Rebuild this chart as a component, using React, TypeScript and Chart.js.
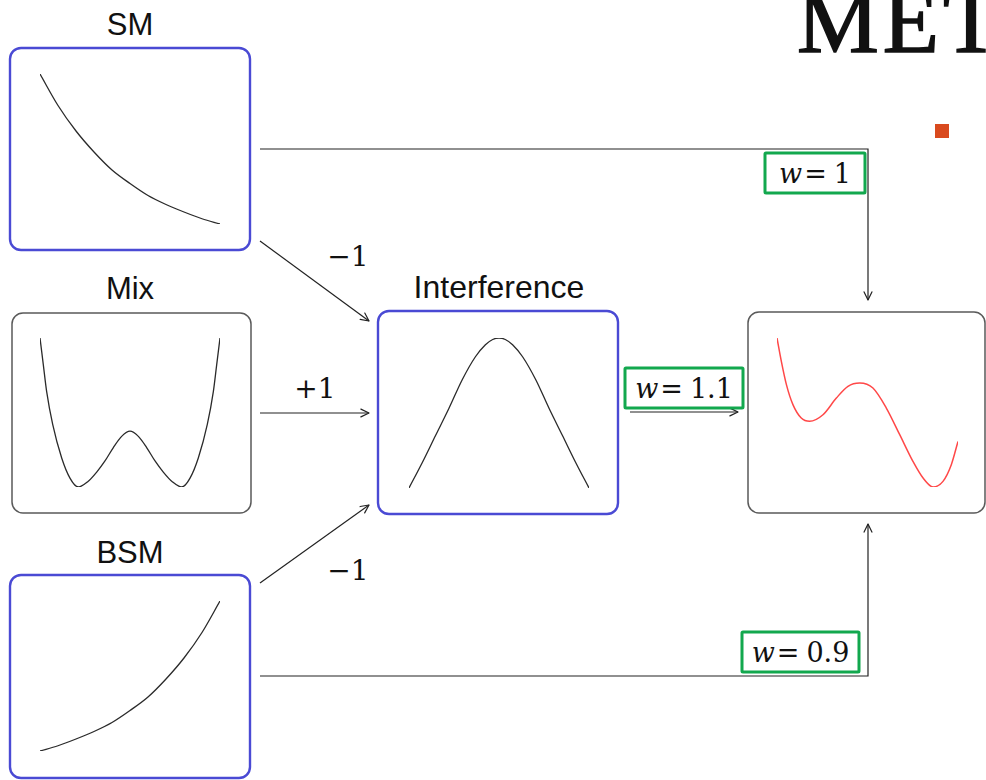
import React, { useEffect, useRef } from "react";
import { Chart, registerables } from "chart.js";

Chart.register(...registerables);

// ---- data ----
const smX = [0, 0.1, 0.2, 0.3, 0.4, 0.5, 0.6, 0.7, 0.8, 0.9, 1];
const smY = [1, 0.79, 0.62, 0.48, 0.36, 0.27, 0.19, 0.13, 0.08, 0.035, 0];

const bsmX = [0, 0.1, 0.2, 0.3, 0.4, 0.5, 0.6, 0.7, 0.8, 0.9, 1];
const bsmY = [0, 0.035, 0.08, 0.13, 0.19, 0.27, 0.36, 0.48, 0.62, 0.79, 1];

const mixX = [-1, -0.963, -0.926, -0.859, -0.759, -0.667, -0.574, -0.47, -0.37, -0.278, -0.185, -0.093, 0, 0.093, 0.185, 0.278, 0.37, 0.47, 0.574, 0.667, 0.759, 0.859, 0.926, 0.963, 1];
const mixY = [1, 0.82, 0.64, 0.42, 0.195, 0.06, 0, 0.035, 0.1, 0.175, 0.265, 0.34, 0.375, 0.34, 0.265, 0.175, 0.1, 0.035, 0, 0.06, 0.195, 0.42, 0.64, 0.82, 1];

const interfX = [-1, -0.852, -0.705, -0.557, -0.41, -0.262, -0.151, -0.07, 0, 0.07, 0.151, 0.262, 0.41, 0.557, 0.705, 0.852, 1];
const interfY = [0, 0.17, 0.35, 0.53, 0.72, 0.875, 0.955, 0.99, 1, 0.99, 0.955, 0.875, 0.72, 0.53, 0.35, 0.17, 0];

const resultX = [0, 0.024, 0.052, 0.088, 0.134, 0.18, 0.254, 0.328, 0.392, 0.457, 0.53, 0.604, 0.678, 0.751, 0.807, 0.862, 0.917, 0.963, 1];
const resultY = [1, 0.843, 0.687, 0.553, 0.463, 0.441, 0.485, 0.597, 0.676, 0.698, 0.664, 0.53, 0.351, 0.172, 0.06, 0, 0.038, 0.15, 0.306];

const panelTitles = ["SM", "Mix", "BSM", "Interference"];
const coeffLabels = ["\u22121", "+1", "\u22121"];
const weightLabels = ["1", "1.1", "0.9"];
const headerText = "MET";

// ---- styling ----
const BLUE = "#4a4ad4";
const GRAY = "#5a5a5a";
const GREEN = "#12a84e";
const CURVE = "#2a2a2a";
const RED = "#ff4848";

type PanelProps = {
  xs: number[];
  ys: number[];
  left: number;
  top: number;
  w: number;
  h: number;
  color: string;
  lineWidth: number;
};

function CurvePanel({ xs, ys, left, top, w, h, color, lineWidth }: PanelProps) {
  const ref = useRef<HTMLCanvasElement | null>(null);
  const pad = 4;
  useEffect(() => {
    if (!ref.current) return;
    const pts = xs.map((x, i) => ({ x, y: ys[i] }));
    const chart = new Chart(ref.current, {
      type: "scatter",
      data: {
        datasets: [
          {
            data: pts,
            showLine: true,
            borderColor: color,
            borderWidth: lineWidth,
            pointRadius: 0,
            cubicInterpolationMode: "monotone",
            fill: false,
          } as any,
        ],
      },
      options: {
        animation: false,
        responsive: false,
        maintainAspectRatio: false,
        layout: { padding: pad },
        plugins: { legend: { display: false }, tooltip: { enabled: false } },
        events: [],
        scales: {
          x: { type: "linear", display: false, min: Math.min(...xs), max: Math.max(...xs) },
          y: { type: "linear", display: false, min: Math.min(...ys), max: Math.max(...ys) },
        },
      },
    });
    return () => chart.destroy();
  }, [xs, ys, color, lineWidth]);
  return (
    <canvas
      ref={ref}
      width={w + 2 * pad}
      height={h + 2 * pad}
      style={{ position: "absolute", left: left - pad, top: top - pad, width: w + 2 * pad, height: h + 2 * pad }}
    />
  );
}

function arrowHead(x1: number, y1: number, x2: number, y2: number) {
  const a = Math.atan2(y2 - y1, x2 - x1);
  const len = 9;
  const spread = 0.45;
  const p1 = [x2 - len * Math.cos(a - spread), y2 - len * Math.sin(a - spread)];
  const p2 = [x2 - len * Math.cos(a + spread), y2 - len * Math.sin(a + spread)];
  return `${p1[0]},${p1[1]} ${x2},${y2} ${p2[0]},${p2[1]}`;
}

function Arrow({ pts }: { pts: number[][] }) {
  const n = pts.length;
  const [x1, y1] = pts[n - 2];
  const [x2, y2] = pts[n - 1];
  return (
    <g stroke="#222" strokeWidth={1.2} fill="none">
      <polyline points={pts.map((p) => p.join(",")).join(" ")} />
      <polyline points={arrowHead(x1, y1, x2, y2)} strokeLinecap="round" strokeLinejoin="round" />
    </g>
  );
}

const mathFont = "'DejaVu Serif', serif";

function WeightBox({ x, y, w, h, value }: { x: number; y: number; w: number; h: number; value: string }) {
  return (
    <g>
      <rect x={x} y={y} width={w} height={h} fill="white" stroke={GREEN} strokeWidth={3} rx={1} />
      <text
        x={x + w / 2}
        y={y + h / 2 + 10}
        textAnchor="middle"
        fontFamily={mathFont}
        fontSize={27}
        fill="#111"
      >
        <tspan fontStyle="italic">w</tspan>
        <tspan dx={2}>=</tspan>
        <tspan dx={7}>{value}</tspan>
      </text>
    </g>
  );
}

export default function App() {
  const sans = "'Liberation Sans', Arial, sans-serif";
  const serif = "'Liberation Serif', serif";
  return (
    <div
      style={{
        position: "absolute",
        left: 0,
        top: 0,
        width: 986,
        height: 780,
        background: "white",
        overflow: "hidden",
      }}
    >
      <svg width={986} height={780} style={{ position: "absolute", left: 0, top: 0 }}>
        {/* header */}
        <text
          x={797}
          y={52}
          fontFamily={serif}
          fontSize={92}
          letterSpacing={4}
          fill="#111"
          stroke="#111"
          strokeWidth={1.6}
        >
          {headerText}
        </text>
        <rect x={935} y={124} width={14} height={14} fill="#d94a1e" />

        {/* panel boxes */}
        <rect x={10} y={48} width={240} height={202} rx={11} fill="none" stroke={BLUE} strokeWidth={2.4} />
        <rect x={12} y={313} width={239} height={200} rx={11} fill="none" stroke={GRAY} strokeWidth={1.5} />
        <rect x={10} y={575} width={240} height={203} rx={11} fill="none" stroke={BLUE} strokeWidth={2.4} />
        <rect x={378} y={311} width={240} height={203} rx={11} fill="none" stroke={BLUE} strokeWidth={2.4} />
        <rect x={748} y={312} width={237} height={201} rx={11} fill="none" stroke={GRAY} strokeWidth={1.5} />

        {/* panel titles */}
        <text x={130} y={35} textAnchor="middle" fontFamily={sans} fontSize={31} fill="#111">{panelTitles[0]}</text>
        <text x={130} y={299} textAnchor="middle" fontFamily={sans} fontSize={31} fill="#111">{panelTitles[1]}</text>
        <text x={130} y={563} textAnchor="middle" fontFamily={sans} fontSize={31} fill="#111">{panelTitles[2]}</text>
        <text x={499} y={298} textAnchor="middle" fontFamily={sans} fontSize={32} fill="#111">{panelTitles[3]}</text>

        {/* arrows */}
        <Arrow pts={[[260, 241], [369, 321]]} />
        <Arrow pts={[[260, 413], [369, 413]]} />
        <Arrow pts={[[260, 583], [369, 505]]} />
        <Arrow pts={[[630, 412], [738, 412]]} />
        <Arrow pts={[[260, 149], [868, 149], [868, 300]]} />
        <Arrow pts={[[260, 676], [868, 676], [868, 524]]} />

        {/* coefficients */}
        <text x={348} y={266} textAnchor="middle" fontFamily={mathFont} fontSize={28} fill="#111">{coeffLabels[0]}</text>
        <text x={315} y={398} textAnchor="middle" fontFamily={mathFont} fontSize={28} fill="#111">{coeffLabels[1]}</text>
        <text x={348} y={580} textAnchor="middle" fontFamily={mathFont} fontSize={28} fill="#111">{coeffLabels[2]}</text>

        {/* weights */}
        <WeightBox x={765} y={153} w={100} h={40} value={weightLabels[0]} />
        <WeightBox x={625} y={368} w={118} h={40} value={weightLabels[1]} />
        <WeightBox x={742} y={632} w={117} h={40} value={weightLabels[2]} />
      </svg>

      <CurvePanel xs={smX} ys={smY} left={40} top={74} w={180} h={150} color={CURVE} lineWidth={1.3} />
      <CurvePanel xs={mixX} ys={mixY} left={40} top={338} w={180} h={149} color={CURVE} lineWidth={1.3} />
      <CurvePanel xs={bsmX} ys={bsmY} left={40} top={601} w={180} h={150} color={CURVE} lineWidth={1.3} />
      <CurvePanel xs={interfX} ys={interfY} left={409} top={338} w={180} h={150} color={CURVE} lineWidth={1.3} />
      <CurvePanel xs={resultX} ys={resultY} left={777} top={338} w={181} h={149} color={RED} lineWidth={1.5} />
    </div>
  );
}
